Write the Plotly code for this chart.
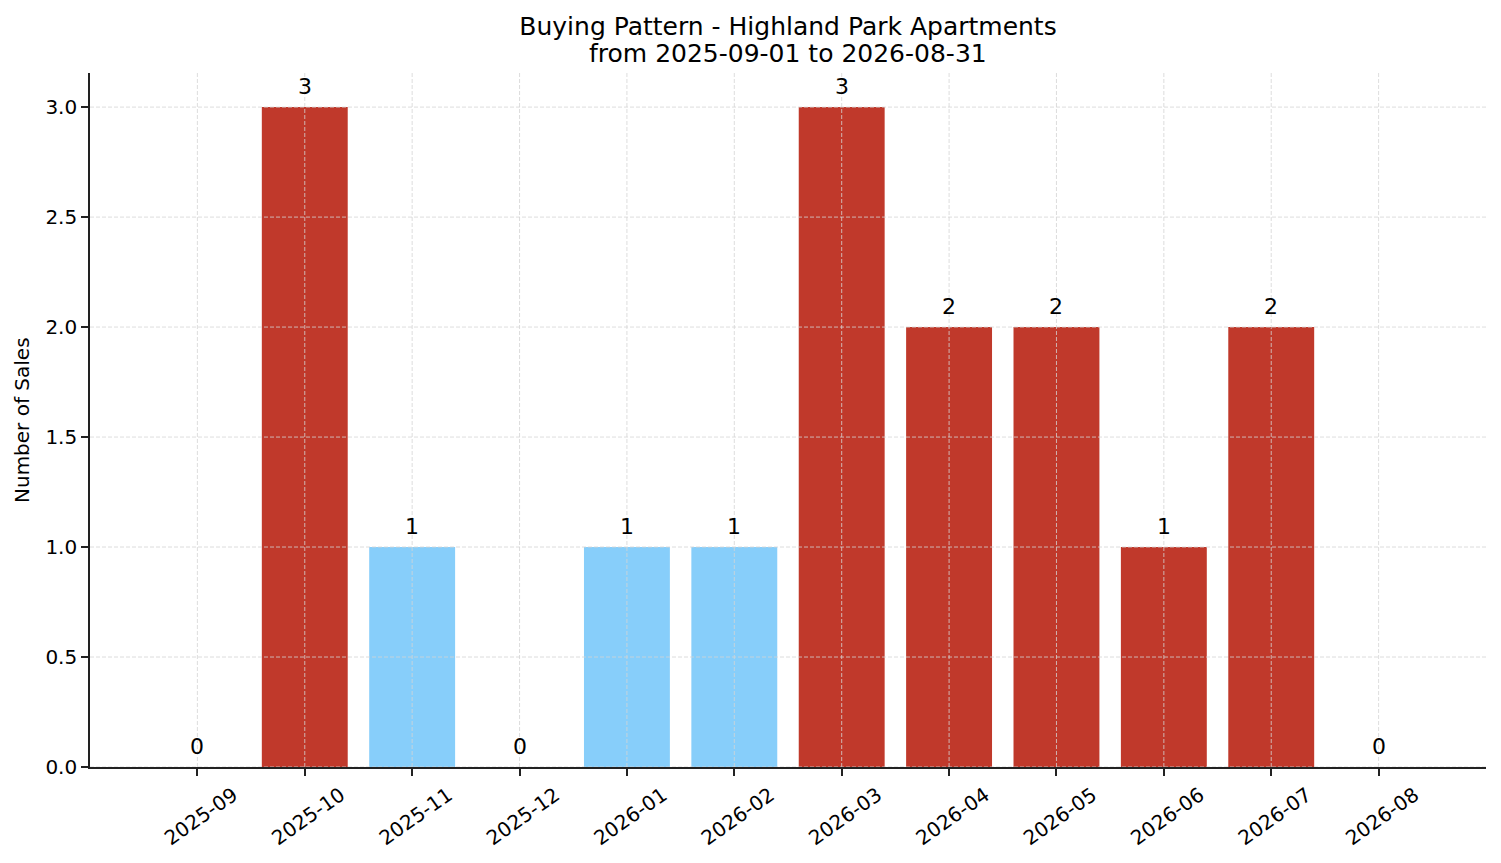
import plotly.graph_objects as go

months = ['2025-09', '2025-10', '2025-11', '2025-12', '2026-01', '2026-02',
          '2026-03', '2026-04', '2026-05', '2026-06', '2026-07', '2026-08']
sales = [0, 3, 1, 0, 1, 1, 3, 2, 2, 1, 2, 0]
bar_colors = ['#87cefa', '#c0392b', '#87cefa', '#87cefa', '#87cefa', '#87cefa',
              '#c0392b', '#c0392b', '#c0392b', '#c0392b', '#c0392b', '#87cefa']
y_ticks = [0.0, 0.5, 1.0, 1.5, 2.0, 2.5, 3.0]

font = 'DejaVu Sans, sans-serif'
grid = dict(color='#d4d4d4', width=0.8, dash='4px,2px')

# page body has an 8px margin, so the figure is 16px smaller than the window
W, H = 1485, 847

fig = go.Figure()
fig.add_trace(go.Bar(x=months, y=sales, marker_color=bar_colors,
                     marker_line_width=0, width=0.8, showlegend=False))

# value labels above each bar
for m, v in zip(months, sales):
    fig.add_annotation(x=m, y=v, text=str(v), showarrow=False, xanchor='center',
                       yanchor='middle', yshift=21, font=dict(size=22, color='black'))

# matplotlib draws the grid over the bars, so use shapes on top
for m in months:
    fig.add_shape(type='line', xref='x', yref='paper', x0=m, x1=m, y0=0, y1=1,
                  line=grid, layer='above')
for t in y_ticks:
    fig.add_shape(type='line', xref='paper', yref='y', x0=0, x1=1, y0=t, y1=t,
                  line=grid, layer='above')

fig.add_annotation(text='Number of Sales', xref='paper', yref='paper', x=0, y=0.5,
                   xanchor='center', yanchor='middle', xshift=-68, textangle=-90,
                   showarrow=False, font=dict(size=20, color='black'))
fig.add_annotation(text='from 2025-09-01 to 2026-08-31', xref='paper', yref='paper',
                   x=0.5, y=1, xanchor='center', yanchor='middle', yshift=20,
                   showarrow=False, font=dict(size=25, color='black'))

fig.update_layout(
    width=W, height=H,
    margin=dict(l=82, r=7, t=65, b=88),
    plot_bgcolor='white', paper_bgcolor='white',
    font=dict(family=font, size=20, color='black'),
    title=dict(text='Buying Pattern - Highland Park Apartments',
               x=0.5, xref='paper', xanchor='center', yref='container',
               y=1 - 18 / H, yanchor='middle',
               font=dict(size=25, color='black')),
)
fig.update_xaxes(type='category', range=[-1.0, 12.0], tickangle=-35, showgrid=False,
                 showline=True, linecolor='#222', linewidth=1.6, automargin=False,
                 ticks='outside', ticklen=7, tickwidth=1.6, tickcolor='#222',
                 tickfont=dict(size=20), ticklabelshift=36)
fig.update_yaxes(range=[0, 3.155], tickvals=y_ticks,
                 ticktext=['%.1f' % t for t in y_ticks], showgrid=False,
                 zeroline=False, showline=True, linecolor='#222', linewidth=1.6,
                 automargin=False, ticks='outside', ticklen=7, tickwidth=1.6,
                 tickcolor='#222', tickfont=dict(size=20))

fig.write_html('out.html')
